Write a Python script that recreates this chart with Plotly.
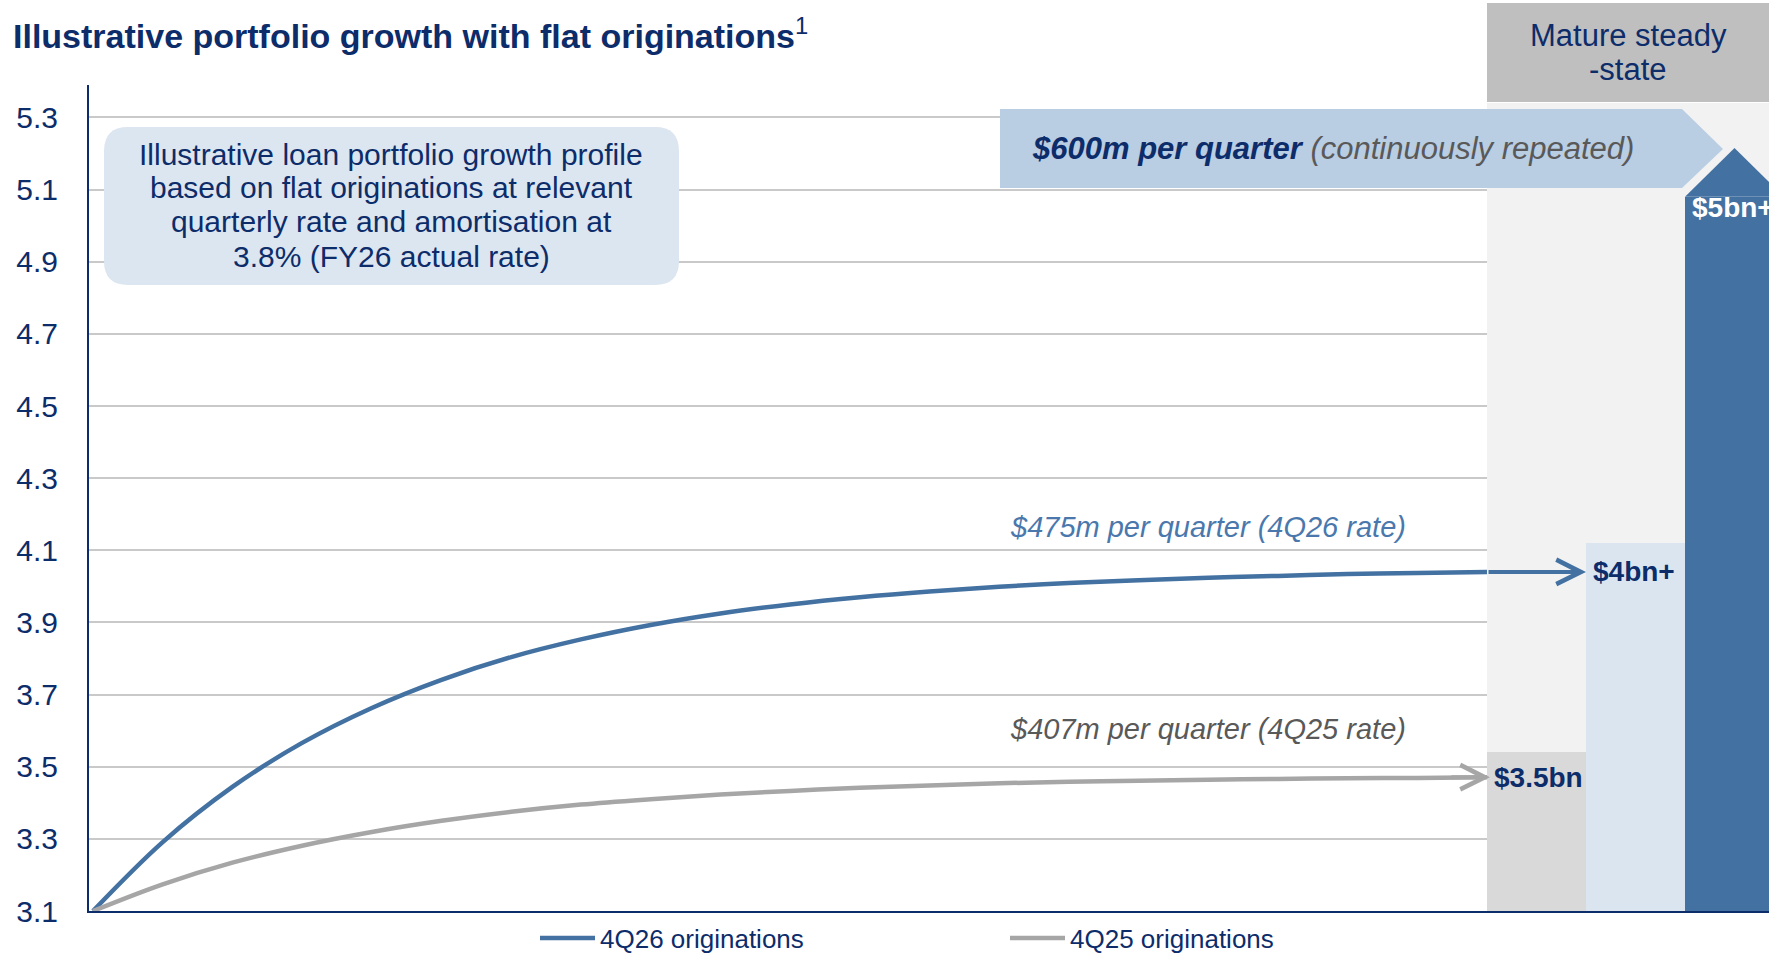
import plotly.graph_objects as go

# ---------------- data ----------------
quarters = list(range(21))
blue_4q26 = [3.100, 3.291, 3.444, 3.566, 3.663, 3.741, 3.804, 3.853, 3.893, 3.925, 3.950,
             3.970, 3.986, 3.999, 4.009, 4.017, 4.024, 4.029, 4.034, 4.037, 4.040]
gray_4q25 = [3.100, 3.174, 3.234, 3.281, 3.319, 3.350, 3.375, 3.395, 3.410, 3.423, 3.433,
             3.442, 3.448, 3.454, 3.458, 3.461, 3.464, 3.466, 3.468, 3.469, 3.471]
series_names = ["4Q26 originations", "4Q25 originations"]

steady_categories = ["4Q25 rate", "4Q26 rate", "Mature steady-state"]
steady_values = [3.54, 4.12, 5.08]
mature_peak = 5.215
steady_labels = ["$3.5bn", "$4bn+", "$5bn+"]

y_ticks = [3.1, 3.3, 3.5, 3.7, 3.9, 4.1, 4.3, 4.5, 4.7, 4.9, 5.1, 5.3]

# ---------------- styles ----------------
NAVY = "#0d2c6a"
BLUE = "#4371a1"
GRAY = "#a6a6a6"
FONT = "Liberation Sans, Arial, sans-serif"

W, H = 1769, 953
L, R, T, B = 89, 1769, 85, 911
PW, PH = R - L, B - T


def px(x):
    return (x - L) / PW


def py(y):
    return (B - y) / PH


def poly_path(points):
    return "M " + " L ".join(f"{px(x):.5f},{py(y):.5f}" for x, y in points) + " Z"


def rounded_path(x0, y0, x1, y1, r):
    def p(x, y):
        return f"{px(x):.5f},{py(y):.5f}"
    return (f"M {p(x0 + r, y0)} L {p(x1 - r, y0)} Q {p(x1, y0)} {p(x1, y0 + r)} "
            f"L {p(x1, y1 - r)} Q {p(x1, y1)} {p(x1 - r, y1)} "
            f"L {p(x0 + r, y1)} Q {p(x0, y1)} {p(x0, y1 - r)} "
            f"L {p(x0, y0 + r)} Q {p(x0, y0)} {p(x0 + r, y0)} Z")


split = px(1487)

fig = go.Figure()

fig.add_trace(go.Scatter(x=quarters, y=blue_4q26, mode="lines", name=series_names[0],
                         line=dict(color=BLUE, width=4.5, shape="spline"), hoverinfo="skip"))
fig.add_trace(go.Scatter(x=quarters, y=gray_4q25, mode="lines", name=series_names[1],
                         line=dict(color=GRAY, width=4.5, shape="spline"), hoverinfo="skip"))

bar_idx = list(range(len(steady_categories)))
fig.add_trace(go.Bar(x=bar_idx, y=steady_values, width=1.0, xaxis="x2", yaxis="y2",
                     marker=dict(color=["#d9d9d9", "#dbe5f0", BLUE], line=dict(width=0)),
                     showlegend=False, hoverinfo="skip"))
mi = bar_idx[-1]
fig.add_trace(go.Scatter(x=[mi - 0.5, mi, mi + 0.5], y=[steady_values[-1], mature_peak, steady_values[-1]],
                         mode="lines", fill="toself", fillcolor=BLUE, line=dict(width=0, color=BLUE),
                         xaxis="x2", yaxis="y2", showlegend=False, hoverinfo="skip"))

shapes = [
    dict(type="rect", xref="paper", yref="paper", x0=split, x1=1, y0=0, y1=py(103),
         fillcolor="#f2f2f2", line=dict(width=0), layer="below"),
    dict(type="rect", xref="paper", yref="paper", x0=split, x1=px(1769), y0=py(102), y1=py(3),
         fillcolor="#bfbfbf", line=dict(width=0), layer="above"),
    dict(type="path", xref="paper", yref="paper",
         path=poly_path([(1000, 109), (1682, 109), (1723, 149), (1682, 188), (1000, 188)]),
         fillcolor="#b9cde3", line=dict(width=0), layer="above"),
    dict(type="path", xref="paper", yref="paper", path=rounded_path(104, 127, 679, 285, 24),
         fillcolor="#dce6f0", line=dict(width=0), layer="above"),
]

annotations = []
annotations.append(dict(xref="x2", yref="y2", x=0.5, y=blue_4q26[-1], axref="x2", ayref="y2",
                        ax=-0.5, ay=blue_4q26[-1], text="", showarrow=True, arrowhead=5,
                        arrowwidth=4, arrowsize=1.2, arrowcolor=BLUE, standoff=0))
annotations.append(dict(xref="x2", yref="y2", x=-0.47, y=gray_4q25[-1], ax=-40, ay=0,
                        text="", showarrow=True, arrowhead=5, arrowwidth=4, arrowsize=1.2,
                        arrowcolor=GRAY, standoff=0))
label_y = [gray_4q25[-1], blue_4q26[-1], steady_values[-1] - 0.03]
label_col = [NAVY, NAVY, "white"]
for i, (lab, yv, c) in enumerate(zip(steady_labels, label_y, label_col)):
    annotations.append(dict(xref="x2", yref="y2", x=i - 0.5, y=yv, xanchor="left", yanchor="middle",
                            xshift=5, text=f"<b>{lab}</b>", showarrow=False,
                            font=dict(family=FONT, size=28, color=c)))
annotations.append(dict(xref="x", yref="paper", x=16, y=py(527), text="<i>$475m per quarter (4Q26 rate)</i>",
                        showarrow=False, font=dict(family=FONT, size=29, color="#4a78ad")))
annotations.append(dict(xref="x", yref="paper", x=16, y=py(747), text="<i>$407m per quarter (4Q25 rate)</i>",
                        showarrow=False, font=dict(family=FONT, size=29, color="#595959")))
info_lines = ["Illustrative loan portfolio growth profile", "based on flat originations at relevant",
              "quarterly rate and amortisation at", "3.8% (FY26 actual rate)"]
for k, line in enumerate(info_lines):
    annotations.append(dict(xref="paper", yref="paper", x=px(391), y=py(154 + 34 * k), text=line,
                            showarrow=False, xanchor="center", yanchor="middle",
                            font=dict(family=FONT, size=30, color=NAVY)))
for k, line in enumerate(["Mature steady", "-state"]):
    annotations.append(dict(xref="paper", yref="paper", x=px(1628), y=py(36 + 34 * k), text=line,
                            showarrow=False, xanchor="center", yanchor="middle",
                            font=dict(family=FONT, size=31, color=NAVY)))
annotations.append(dict(xref="paper", yref="paper", x=px(1030), y=py(148), xanchor="left", yanchor="middle",
                        text=("<b><i>$600m per quarter</i></b> "
                              "<span style='color:#595959'><i>(continuously repeated)</i></span>"),
                        showarrow=False, font=dict(family=FONT, size=31, color=NAVY)))

fig.update_layout(
    width=W, height=H,
    margin=dict(l=L, r=W - R, t=T, b=H - B, pad=0, autoexpand=False),
    paper_bgcolor="white", plot_bgcolor="white",
    title=dict(text="<b>Illustrative portfolio growth with flat originations</b><sup>1</sup>",
               xref="container", yref="container", x=13 / W, y=1 - 36 / H,
               xanchor="left", yanchor="middle", font=dict(family=FONT, size=34, color=NAVY)),
    xaxis=dict(domain=[0, split], range=[-4 / 69.7, 20], showgrid=False, zeroline=False,
               showticklabels=False, ticks="", showline=True, linecolor=NAVY, linewidth=2),
    yaxis=dict(range=[3.1, 5.39], tickvals=y_ticks, ticktext=[f"{v:.1f}" for v in y_ticks],
               showgrid=True, gridcolor="#c9c9c9", gridwidth=2, zeroline=False,
               showline=True, linecolor=NAVY, linewidth=2, ticks="", ticklabelstandoff=23,
               tickfont=dict(family=FONT, size=30, color=NAVY)),
    xaxis2=dict(domain=[split, 1], range=[-0.5, -0.5 + 282 / 99], anchor="y2", showgrid=False,
                zeroline=False, showticklabels=False, ticks="", showline=True, linecolor=NAVY, linewidth=2),
    yaxis2=dict(domain=[0, 1], range=[3.1, 5.39], anchor="x2", showgrid=False, zeroline=False,
                showticklabels=False, ticks="", showline=False),
    bargap=0,
    shapes=shapes,
    annotations=annotations,
    showlegend=True,
    legend=dict(orientation="h", x=px(535), y=py(938), xanchor="left", yanchor="middle",
                font=dict(family=FONT, size=26, color=NAVY), entrywidth=400, entrywidthmode="pixels",
                itemwidth=55, bgcolor="rgba(0,0,0,0)"),
)

fig.write_html("out.html", config={"displayModeBar": False},
               post_script="document.body.style.margin='0';document.body.style.padding='0';"
                           "document.body.style.overflow='hidden';")
